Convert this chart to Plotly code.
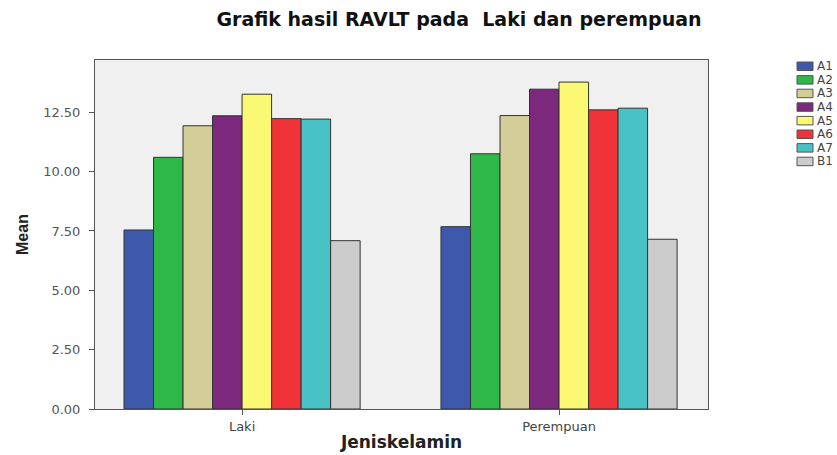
import plotly.graph_objects as go

categories = ["Laki", "Perempuan"]
series_names = ["A1", "A2", "A3", "A4", "A5", "A6", "A7", "B1"]
A1 = [7.54, 7.68]
A2 = [10.60, 10.75]
A3 = [11.93, 12.36]
A4 = [12.35, 13.47]
A5 = [13.26, 13.77]
A6 = [12.23, 12.60]
A7 = [12.21, 12.67]
B1 = [7.09, 7.15]
series_values = [A1, A2, A3, A4, A5, A6, A7, B1]
colors = ["#3e58ac", "#2eb848", "#d3ce97", "#7b287d", "#fbf873", "#ef3338", "#48c2c5", "#cccccc"]
y_ticks = [0, 2.5, 5, 7.5, 10, 12.5]

W, H = 837, 455
ML, MR, MT, MB = 95, 129, 60, 46
PW, PH = W - ML - MR, H - MT - MB

fig = go.Figure()
for name, vals, col in zip(series_names, series_values, colors):
    fig.add_trace(go.Bar(
        name=name, x=categories, y=vals,
        marker=dict(color=col, line=dict(color="#333333", width=1)),
        showlegend=False,
    ))

# custom compact legend (SPSS style)
shapes = []
annotations = []
for i, (name, col) in enumerate(zip(series_names, colors)):
    top_px = 62 + i * 13.6
    bot_px = top_px + 8.5
    shapes.append(dict(
        type="rect", xref="paper", yref="paper",
        x0=(797 - ML) / PW, x1=(813 - ML) / PW,
        y0=(H - MB - bot_px) / PH, y1=(H - MB - top_px) / PH,
        fillcolor=col, line=dict(color="#555555", width=1),
    ))
    annotations.append(dict(
        text=name, xref="paper", yref="paper",
        x=(815 - ML) / PW, y=(H - MB - (top_px + bot_px) / 2) / PH,
        xanchor="left", yanchor="middle", showarrow=False,
        font=dict(family="DejaVu Sans", size=12, color="#444444"),
    ))

fig.update_layout(
    width=W, height=H,
    barmode="group", bargap=0.255, bargroupgap=0,
    paper_bgcolor="white", plot_bgcolor="#f0f0f0",
    margin=dict(l=ML, r=MR, t=MT, b=MB, autoexpand=False),
    font=dict(family="DejaVu Sans", color="#333333"),
    title=dict(text="<b>Grafik hasil RAVLT pada  Laki dan perempuan</b>",
               x=459 / W, xanchor="center", y=1 - 19 / H, yanchor="middle",
               font=dict(family="DejaVu Sans", size=19, color="#111111")),
    showlegend=False,
    shapes=shapes,
    annotations=annotations,
)
fig.update_xaxes(
    type="category", range=[-0.464, 1.47], automargin=False,
    showline=True, linecolor="#555555", linewidth=1, mirror=True,
    ticks="outside", ticklen=5, tickcolor="#555555",
    tickfont=dict(family="DejaVu Sans", size=13, color="#444444"),
    title=dict(text="<b>Jeniskelamin</b>",
               font=dict(family="DejaVu Sans", size=17, color="#222222"), standoff=3),
    showgrid=False,
)
fig.update_yaxes(
    range=[0, 14.7], tickvals=y_ticks, tickformat=".2f", automargin=False,
    showline=True, linecolor="#555555", linewidth=1, mirror=True,
    ticks="outside", ticklen=5, tickcolor="#555555", ticklabelstandoff=6,
    tickfont=dict(family="DejaVu Sans", size=13, color="#555555"),
    title=dict(text="<b>Mean</b>",
               font=dict(family="Liberation Sans Narrow, Liberation Sans", size=16, color="#222222"),
               standoff=10),
    showgrid=False, zeroline=False,
)

fig.write_html("out.html", config={"displayModeBar": False},
               post_script="document.body.style.margin='0';document.body.style.overflow='hidden';")
